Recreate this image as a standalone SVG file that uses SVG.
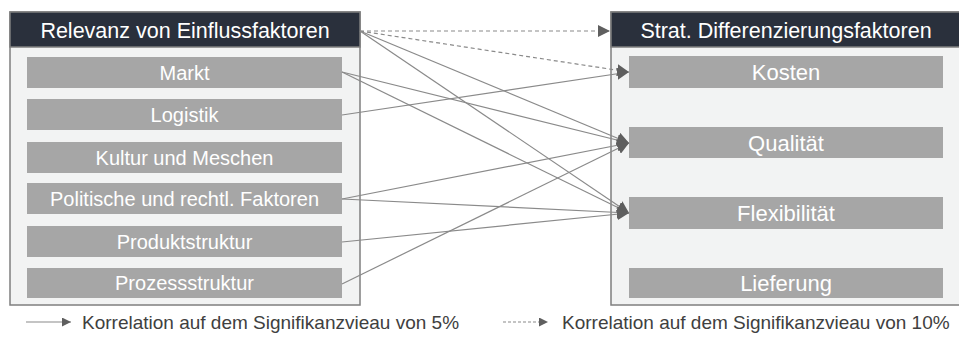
<svg xmlns="http://www.w3.org/2000/svg" width="959" height="346" viewBox="0 0 959 346">
  <defs>
    <style>
      .panel { fill: #f2f3f3; stroke: #7f7f7f; stroke-width: 1.5; }
      .head { fill: #2a303c; stroke: #7f7f7f; stroke-width: 1.5; }
      .htxt { fill: #ffffff; font-family: "Liberation Sans", Arial, sans-serif; font-size: 21.5px; text-anchor: middle; }
      .item { fill: #a6a6a6; }
      .ltxt { fill: #ffffff; font-family: "Liberation Sans", Arial, sans-serif; font-size: 20px; text-anchor: middle; }
      .rtxt { fill: #ffffff; font-family: "Liberation Sans", Arial, sans-serif; font-size: 22px; text-anchor: middle; }
      .link { fill: none; stroke: #8a8a8a; stroke-width: 1.2; marker-end: url(#arr); }
      .dash { stroke-dasharray: 4 3; }
      .legend { fill: #404040; font-family: "Liberation Sans", Arial, sans-serif; font-size: 19px; }
    </style>
    <marker id="arr" viewBox="0 0 10 10" refX="10" refY="5" markerWidth="12" markerHeight="12" markerUnits="userSpaceOnUse" orient="auto">
      <path d="M0,0 L10,5 L0,10 Z" fill="#5f5f5f"/>
    </marker>
    <marker id="arrS" viewBox="0 0 10 10" refX="10" refY="5" markerWidth="9" markerHeight="9" markerUnits="userSpaceOnUse" orient="auto">
      <path d="M0,0 L10,5 L0,10 Z" fill="#5f5f5f"/>
    </marker>
  </defs>

  <!-- left panel: influencing factors -->
  <g id="einflussfaktoren">
    <rect class="panel" x="10" y="12" width="350" height="293"/>
    <rect class="head" x="10" y="12" width="350" height="35"/>
    <text class="htxt" x="185" y="38">Relevanz von Einflussfaktoren</text>
  </g>
  <g id="markt">
    <rect class="item" x="27" y="57" width="315" height="31"/>
    <text class="ltxt" x="184.5" y="79.5">Markt</text>
  </g>
  <g id="logistik">
    <rect class="item" x="27" y="99" width="315" height="31"/>
    <text class="ltxt" x="184.5" y="121.5">Logistik</text>
  </g>
  <g id="kultur">
    <rect class="item" x="27" y="142" width="315" height="31"/>
    <text class="ltxt" x="184.5" y="164.5">Kultur und Meschen</text>
  </g>
  <g id="politik">
    <rect class="item" x="27" y="183" width="315" height="31"/>
    <text class="ltxt" x="184.5" y="205.5">Politische und rechtl. Faktoren</text>
  </g>
  <g id="produktstruktur">
    <rect class="item" x="27" y="226" width="315" height="31"/>
    <text class="ltxt" x="184.5" y="248.5">Produktstruktur</text>
  </g>
  <g id="prozessstruktur">
    <rect class="item" x="27" y="268" width="315" height="30"/>
    <text class="ltxt" x="184.5" y="290">Prozessstruktur</text>
  </g>

  <!-- right panel: strategic differentiation factors -->
  <g id="differenzierungsfaktoren">
    <rect class="panel" x="611" y="12" width="360" height="293"/>
    <rect class="head" x="611" y="12" width="360" height="35"/>
    <text class="htxt" x="786" y="38">Strat. Differenzierungsfaktoren</text>
  </g>
  <g id="kosten">
    <rect class="item" x="629" y="56" width="314" height="32"/>
    <text class="rtxt" x="786" y="80">Kosten</text>
  </g>
  <g id="qualitaet">
    <rect class="item" x="629" y="127" width="314" height="31"/>
    <text class="rtxt" x="786" y="150.5">Qualität</text>
  </g>
  <g id="flexibilitaet">
    <rect class="item" x="629" y="197" width="314" height="32"/>
    <text class="rtxt" x="786" y="221">Flexibilität</text>
  </g>
  <g id="lieferung">
    <rect class="item" x="629" y="268" width="314" height="30"/>
    <text class="rtxt" x="786" y="291">Lieferung</text>
  </g>

  <!-- correlations -->
  <g id="connectors">
    <line class="link dash" x1="360" y1="31" x2="610" y2="31"/>
    <line class="link dash" x1="360" y1="31" x2="629" y2="72"/>
    <line class="link" x1="360" y1="31" x2="629" y2="143"/>
    <line class="link" x1="360" y1="31" x2="629" y2="213"/>
    <line class="link" x1="342" y1="72" x2="629" y2="143"/>
    <line class="link" x1="342" y1="72" x2="629" y2="213"/>
    <line class="link" x1="342" y1="115" x2="629" y2="72"/>
    <line class="link" x1="342" y1="199" x2="629" y2="143"/>
    <line class="link" x1="342" y1="199" x2="629" y2="213"/>
    <line class="link" x1="342" y1="242" x2="629" y2="213"/>
    <line class="link" x1="342" y1="284" x2="629" y2="143"/>
  </g>

  <!-- legend -->
  <g id="legende">
    <line x1="26" y1="322" x2="71" y2="322" stroke="#8a8a8a" stroke-width="1.2" marker-end="url(#arrS)"/>
    <text class="legend" x="82" y="328.5">Korrelation auf dem Signifikanzvieau  von 5%</text>
    <line x1="503" y1="322" x2="548" y2="322" stroke="#8a8a8a" stroke-width="1.2" stroke-dasharray="3 2" marker-end="url(#arrS)"/>
    <text class="legend" x="562" y="328.5">Korrelation auf dem Signifikanzvieau  von 10%</text>
  </g>
</svg>
